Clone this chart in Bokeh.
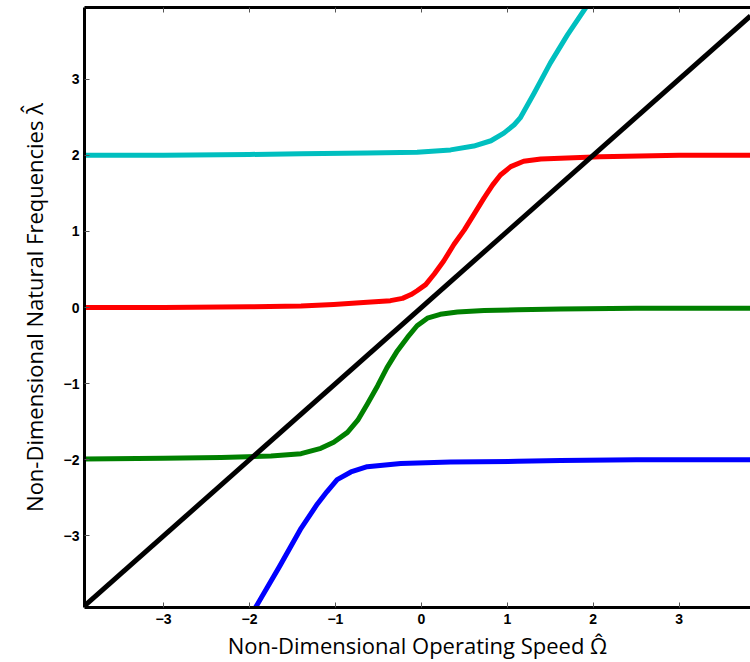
from bokeh.plotting import figure
from bokeh.models import Range1d, FixedTicker, LinearAxis, CustomJSTickFormatter
from bokeh.embed import file_html
from bokeh.resources import INLINE

# Operating speed (x) and natural frequency (y) readings for each branch
cyan_x = [-3.92, -3.0, -2.0, -1.40, -0.63, -0.05, 0.34, 0.61, 0.81, 0.96, 1.08, 1.15, 1.31, 1.50, 1.70, 1.92]
cyan_y = [2.0, 2.0, 2.01, 2.02, 2.03, 2.04, 2.07, 2.12, 2.19, 2.29, 2.40, 2.49, 2.81, 3.21, 3.58, 3.95]

red_x = [-3.92, -3.0, -2.0, -1.40, -1.02, -0.63, -0.36, -0.22, -0.12, -0.05, 0.05, 0.15, 0.26, 0.38, 0.50,
         0.61, 0.73, 0.83, 0.92, 1.04, 1.19, 1.39, 1.62, 2.08, 3.0, 3.83]
red_y = [0.0, 0.0, 0.01, 0.02, 0.04, 0.07, 0.09, 0.12, 0.17, 0.22, 0.30, 0.44, 0.61, 0.83, 1.02,
         1.22, 1.44, 1.61, 1.74, 1.85, 1.92, 1.95, 1.96, 1.98, 2.0, 2.0]

green_x = [-3.92, -3.0, -2.33, -1.75, -1.40, -1.17, -1.02, -0.86, -0.74, -0.63, -0.51, -0.40, -0.28,
           -0.16, -0.05, 0.07, 0.22, 0.42, 0.73, 1.12, 1.62, 2.5, 3.83]
green_y = [-1.99, -1.98, -1.97, -1.95, -1.92, -1.85, -1.77, -1.64, -1.48, -1.27, -1.03, -0.79, -0.57,
           -0.39, -0.24, -0.14, -0.09, -0.06, -0.04, -0.03, -0.02, -0.01, -0.01]

blue_x = [-1.93, -1.65, -1.40, -1.21, -1.10, -0.98, -0.82, -0.63, -0.24, 0.34, 1.12, 1.62, 2.5, 3.83]
blue_y = [-3.94, -3.40, -2.90, -2.58, -2.42, -2.26, -2.16, -2.09, -2.05, -2.03, -2.02, -2.01, -2.0, -2.0]

diag_x = [-3.92, 3.83]
diag_y = [-3.92, 3.83]

ticks = [-3, -2, -1, 0, 1, 2, 3]
x_title = "Non-Dimensional Operating Speed Ω\u0302"
y_title = "Non-Dimensional Natural Frequencies λ\u0302"

p = figure(width=750, height=662, output_backend="svg", toolbar_location=None,
           x_range=Range1d(-3.92, 3.83), y_range=Range1d(-3.94, 3.94),
           min_border_left=84, min_border_right=0, min_border_top=7, min_border_bottom=53)
p.outline_line_color = None
p.grid.visible = False
p.background_fill_color = "white"

p.line(cyan_x, cyan_y, line_color="#00BFBF", line_width=5, line_join="round")
p.line(red_x, red_y, line_color="#FF0000", line_width=5, line_join="round")
p.line(green_x, green_y, line_color="#008000", line_width=5, line_join="round")
p.line(blue_x, blue_y, line_color="#0000FF", line_width=5, line_join="round")
p.line(diag_x, diag_y, line_color="black", line_width=5)

for ax in (p.xaxis[0], p.yaxis[0]):
    ax.ticker = FixedTicker(ticks=ticks)
    ax.axis_line_width = 3
    ax.axis_line_color = "black"
    ax.major_tick_in = 5
    ax.major_tick_out = 0
    ax.major_tick_line_color = "#555555"
    ax.minor_tick_line_color = None
    ax.major_label_text_font = "Liberation Sans"
    ax.major_label_text_font_style = "bold"
    ax.major_label_text_font_size = "14px"
    ax.major_label_text_color = "black"
    ax.axis_label_text_font = "Open Sans"
    ax.axis_label_text_font_style = "normal"
    ax.axis_label_text_font_size = "22px"
    ax.axis_label_text_color = "black"

p.xaxis[0].axis_label = x_title
p.yaxis[0].axis_label = y_title
p.xaxis[0].major_label_standoff = 6
p.yaxis[0].major_label_standoff = 5
p.xaxis[0].axis_label_standoff = 3
p.yaxis[0].axis_label_standoff = 12

top = LinearAxis(ticker=FixedTicker(ticks=ticks), axis_line_width=3, axis_line_color="black",
                 major_tick_in=5, major_tick_out=0, major_tick_line_color="#555555",
                 minor_tick_line_color=None, major_label_standoff=0,
                 formatter=CustomJSTickFormatter(code="return ''"))
p.add_layout(top, "above")

open("out.html", "w").write(file_html(p, INLINE))
